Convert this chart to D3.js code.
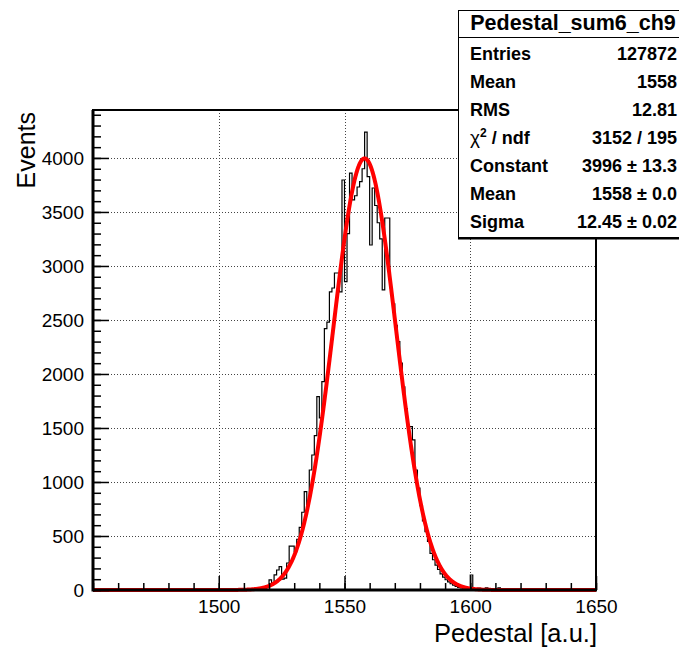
<!DOCTYPE html>
<html>
<head>
<meta charset="utf-8">
<script src="https://cdn.jsdelivr.net/npm/d3@7"></script>
<style>
  body { margin: 0; background: #fff; }
  svg { display: block; font-family: "Liberation Sans", Arial, Helvetica, sans-serif; }
</style>
</head>
<body>
<svg id="chart" width="679" height="649"></svg>
<script>
// histogram: 1-unit bins, first bin low edge = firstBin
const firstBin = 1515;
const counts = [
     0,    0,    4,   10,   40,   93,   60,  140,  185,  216,
   100,  110,  250,  407,  407,  355,  470,  580,  720,  910,
   787, 1111, 1250, 1430, 1790, 1593, 1930, 2420, 2480, 2760,
  2796, 2935, 2935, 2760, 3796, 2855, 3300, 3860, 3611, 3650,
  3731, 3780, 3900, 4240, 3827, 3194, 3722, 3560, 3400, 3250,
  2778, 3444, 3444, 2800, 2650, 2450, 2299, 2100, 1880, 1680,
  1512, 1512, 1389, 1111,  944,  780,  640,  540,  450,  340,
   280,  230,  190,  150,  120,   95,   75,   58,   44,   34,
    25,   19,   14,   10,    8,  139,    6,    4,   18,   12,
     8,   20,    2,   14,    5,    0,   20,    0
];

// gaussian fit parameters (from stats box)
const fitConst = 3996, fitMean = 1558, fitSigma = 12.45;

const xTicks = [1500, 1550, 1600, 1650];
const yTicks = [0, 500, 1000, 1500, 2000, 2500, 3000, 3500, 4000];

const statTitle = "Pedestal_sum6_ch9";
const statLabels = ["Entries", "Mean", "RMS", "chi2", "Constant", "Mean", "Sigma"];
const statValues = ["127872", "1558", "12.81", "3152 / 195", "3996 \u00b1 13.3", "1558 \u00b1 0.0", "12.45 \u00b1 0.02"];

const svg = d3.select("#chart");
const L = 93, R = 596, T = 110, B = 590;

const x = d3.scaleLinear().domain([1450, 1650]).range([L, R]);
const y = d3.scaleLinear().domain([0, 4444]).range([B, T]);

// grid
const grid = svg.append("g").attr("stroke", "#444").attr("stroke-width", 1)
  .attr("stroke-dasharray", "1,2");
grid.selectAll("line.gx").data(xTicks.filter(d => d < 1650)).enter().append("line")
  .attr("x1", d => Math.round(x(d)) + 0.5).attr("x2", d => Math.round(x(d)) + 0.5)
  .attr("y1", T).attr("y2", B);
grid.selectAll("line.gy").data(yTicks.filter(d => d > 0)).enter().append("line")
  .attr("y1", d => Math.round(y(d)) + 0.5).attr("y2", d => Math.round(y(d)) + 0.5)
  .attr("x1", L).attr("x2", R);

// histogram outline
const bins = d3.range(1450, 1650).map(function(lo) {
  var i = lo - firstBin;
  return [lo, (i >= 0 && i < counts.length) ? counts[i] : 0];
});
bins.push([1650, 0]);
const step = d3.line().x(d => x(d[0])).y(d => y(d[1])).curve(d3.curveStepAfter);
svg.append("path").datum(bins)
  .attr("d", step)
  .attr("fill", "none").attr("stroke", "#000").attr("stroke-width", 1.2);

// fit curve
const fx = d3.range(0, 2001).map(i => 1450 + i * 0.1);
const gaus = v => fitConst * Math.exp(-0.5 * Math.pow((v - fitMean) / fitSigma, 2));
svg.append("path").datum(fx)
  .attr("d", d3.line().x(d => x(d)).y(d => y(gaus(d))))
  .attr("fill", "none").attr("stroke", "#ff0000").attr("stroke-width", 4)
  .attr("stroke-linejoin", "round");

// axes (ticks pointing inward, ROOT style)
function styleAxis(g) {
  g.select(".domain").remove();
  g.selectAll(".tick line").attr("stroke", "#000").attr("stroke-width", 1.5);
  g.selectAll(".tick text").attr("fill", "#000").style("font-size", "19px")
    .style("font-family", "'Liberation Sans', Arial, sans-serif");
}
svg.append("g").attr("transform", "translate(" + L + ",0)")
  .call(d3.axisLeft(y).tickValues(d3.range(0, 4401, 100)).tickSize(-8).tickFormat(""))
  .call(styleAxis);
svg.append("g").attr("transform", "translate(" + L + ",0)")
  .call(d3.axisLeft(y).tickValues(yTicks).tickSize(-16).tickPadding(9).tickFormat(d3.format("d")))
  .call(styleAxis);
svg.append("g").attr("transform", "translate(0," + B + ")")
  .call(d3.axisBottom(x).tickValues(d3.range(1450, 1651, 10)).tickSize(-7).tickFormat(""))
  .call(styleAxis);
svg.append("g").attr("transform", "translate(0," + B + ")")
  .call(d3.axisBottom(x).tickValues(xTicks).tickSize(-14).tickPadding(10).tickFormat(d3.format("d")))
  .call(styleAxis);

// frame
svg.append("rect").attr("x", L).attr("y", T).attr("width", R - L).attr("height", B - T)
  .attr("fill", "none").attr("stroke", "#000").attr("stroke-width", 2);
svg.append("line").attr("x1", L).attr("x2", L).attr("y1", T).attr("y2", B + 1.5)
  .attr("stroke", "#000").attr("stroke-width", 3);
svg.append("line").attr("x1", L).attr("x2", R + 1).attr("y1", B).attr("y2", B)
  .attr("stroke", "#000").attr("stroke-width", 3);

// axis titles
svg.append("text").attr("transform", "translate(35,112) rotate(-90)")
  .attr("text-anchor", "end").style("font-size", "25px").text("Events");
svg.append("text").attr("x", 597).attr("y", 642)
  .attr("text-anchor", "end").style("font-size", "25.5px").text("Pedestal [a.u.]");

// stats box
const box = svg.append("g");
box.append("rect").attr("x", 458.5).attr("y", 10.5).attr("width", 240).attr("height", 227)
  .attr("fill", "#fff").attr("stroke", "#000").attr("stroke-width", 1);
box.append("line").attr("x1", 458).attr("x2", 679).attr("y1", 238.5).attr("y2", 238.5)
  .attr("stroke", "#000").attr("stroke-width", 2);
box.append("line").attr("x1", 458).attr("x2", 679).attr("y1", 37.5).attr("y2", 37.5)
  .attr("stroke", "#000").attr("stroke-width", 1);
box.append("text").attr("x", 573).attr("y", 30).attr("text-anchor", "middle")
  .style("font-size", "21.5px").style("font-weight", "bold").text(statTitle);

statLabels.forEach(function(lab, i) {
  var yy = 59.5 + i * 28.05;
  var t = box.append("text").attr("x", 470).attr("y", yy)
    .style("font-size", "18px").style("font-weight", "bold");
  if (lab === "chi2") {
    t.append("tspan").style("font-weight", "normal").style("font-size", "19px").text("\u03c7");
    t.append("tspan").attr("dy", -7).style("font-size", "12px").text("2");
    t.append("tspan").attr("dy", 7).text(" / ndf");
  } else {
    t.text(lab);
  }
  box.append("text").attr("x", 677).attr("y", yy).attr("text-anchor", "end")
    .style("font-size", "18px").style("font-weight", "bold").text(statValues[i]);
});
</script>
</body>
</html>
